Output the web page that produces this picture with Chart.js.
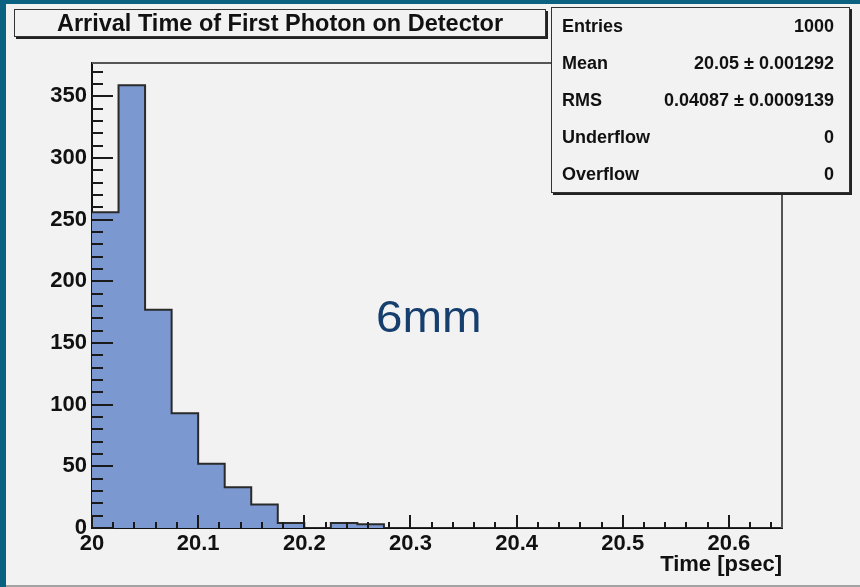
<!DOCTYPE html>
<html>
<head>
<meta charset="utf-8">
<script src="https://cdn.jsdelivr.net/npm/chart.js@4.4.1/dist/chart.umd.min.js"></script>
<style>
html,body{margin:0;padding:0;}
body{width:860px;height:587px;background:#0a6280;position:relative;overflow:hidden;font-family:"Liberation Sans",Arial,sans-serif;}
#pad{position:absolute;left:6px;top:4px;width:854px;height:581px;background:#f2f2f2;border-bottom:2px solid #a3a3a3;}
#c{position:absolute;left:0;top:0;}
#title{position:absolute;left:14px;top:9px;width:530px;height:25px;padding-top:1px;border:1px solid #333;box-shadow:2px 2px 0 #222;background:#f2f2f2;font:bold 23.5px "Liberation Sans",Arial,sans-serif;line-height:25px;text-align:center;color:#111;white-space:nowrap;}
#stats{position:absolute;left:551px;top:7px;width:297px;height:184px;border:1px solid #333;box-shadow:2px 2px 0 #222;background:#f2f2f2;font:bold 18px "Liberation Sans",Arial,sans-serif;color:#111;}
.row{position:absolute;left:10px;right:15px;height:22px;line-height:22px;white-space:nowrap;}
.row .v{position:absolute;right:0;top:0;}
#ann{position:absolute;left:376px;top:295px;font:44px "Liberation Sans",Arial,sans-serif;line-height:44px;color:#173f6e;white-space:nowrap;transform:scaleX(1.08);transform-origin:0 0;}
</style>
</head>
<body>
<div id="pad"></div>
<canvas id="c" width="860" height="587"></canvas>
<div id="title"></div>
<div id="stats"></div>
<div id="ann"></div>
<script>
// ---- data ----
const binLowEdges = [20.000,20.025,20.050,20.075,20.100,20.125,20.150,20.175,20.200,20.225,20.250,20.275,20.300,20.325,20.350,20.375,20.400,20.425,20.450,20.475,20.500,20.525,20.550,20.575,20.600,20.625];
const histUpperEdge = 20.65;
const counts = [256,359,177,93,52,33,19,4,0,4,3,0,0,0,0,0,0,0,0,0,0,0,0,0,0,0];
const xTickValues = [20,20.1,20.2,20.3,20.4,20.5,20.6];
const xTickLabels = ["20","20.1","20.2","20.3","20.4","20.5","20.6"];
const yTickValues = [0,50,100,150,200,250,300,350];
const yAxisMax = 377;
const titleText = "Arrival Time of First Photon on Detector";
const xAxisTitle = "Time [psec]";
const statsLabels = ["Entries","Mean","RMS","Underflow","Overflow"];
const statsValues = ["1000","20.05 \u00b1 0.001292","0.04087 \u00b1 0.0009139","0","0"];
const annotationText = "6mm";

// ---- text overlays ----
document.getElementById('title').textContent = titleText;
document.getElementById('ann').textContent = annotationText;
const rowTops = [7,44,81,118,155];
const statsEl = document.getElementById('stats');
statsLabels.forEach((lab,i)=>{
  const r = document.createElement('div');
  r.className='row'; r.style.top = rowTops[i]+'px';
  const l = document.createElement('span'); l.textContent = lab;
  const v = document.createElement('span'); v.className='v'; v.textContent = statsValues[i];
  r.appendChild(l); r.appendChild(v); statsEl.appendChild(r);
});

// ---- histogram points (step outline) ----
const pts = binLowEdges.map((x,i)=>({x:x, y:counts[i]}));
pts.push({x:histUpperEdge, y:counts[counts.length-1]});

const FONT = '"Liberation Sans", Arial, sans-serif';

const frameTicks = {
  id:'frameTicks',
  afterDraw(chart){
    const {ctx, chartArea:a, scales:{x,y}} = chart;
    ctx.save();
    ctx.strokeStyle='#555'; ctx.lineWidth=2;
    ctx.beginPath();
    ctx.moveTo(a.left, a.top); ctx.lineTo(a.right, a.top); ctx.lineTo(a.right, a.bottom);
    ctx.stroke();
    ctx.strokeStyle='#1a1a1a'; ctx.lineWidth=2;
    ctx.beginPath();
    for (let k=0; k<=37; k++){
      const py = Math.round(y.getPixelForValue(k*10));
      const len = (k%5===0)?21:11;
      ctx.moveTo(a.left, py); ctx.lineTo(a.left+len, py);
    }
    for (let k=0; k<=32; k++){
      const px = Math.round(x.getPixelForValue(20 + k*0.02));
      const len = (k%5===0)?13:6;
      ctx.moveTo(px, a.bottom); ctx.lineTo(px, a.bottom-len);
    }
    ctx.stroke();
    ctx.restore();
  }
};

new Chart(document.getElementById('c'), {
  type:'line',
  data:{ datasets:[{
    data: pts,
    stepped: true,
    fill: 'origin',
    backgroundColor: '#7b98d0',
    borderColor: '#2a2a2a',
    borderWidth: 2,
    pointRadius: 0,
    tension: 0
  }]},
  options:{
    responsive:false,
    animation:false,
    devicePixelRatio:1,
    layout:{padding:{left:0,top:63,right:78,bottom:0}},
    plugins:{legend:{display:false},tooltip:{enabled:false},title:{display:false}},
    scales:{
      x:{
        type:'linear', min:20, max:histUpperEdge, z:1,
        afterBuildTicks:(s)=>{ s.ticks = xTickValues.map(v=>({value:v})); },
        afterFit:(s)=>{ s.height = 59; },
        ticks:{autoSkip:false, maxRotation:0, padding:3, color:'#111',
          font:{family:FONT, size:22, weight:'bold'},
          callback:(v,i)=>xTickLabels[i]},
        grid:{display:false, drawOnChartArea:false, drawTicks:false},
        border:{display:true, color:'#111', width:2},
        title:{display:true, text:xAxisTitle, align:'end', color:'#111',
          font:{family:FONT, size:22, weight:'bold'}, padding:{top:0,bottom:9}}
      },
      y:{
        min:0, max:yAxisMax, z:1,
        afterBuildTicks:(s)=>{ s.ticks = yTickValues.map(v=>({value:v})); },
        afterFit:(s)=>{ s.width = 92; },
        ticks:{autoSkip:false, padding:5, color:'#111',
          font:{family:FONT, size:22, weight:'bold'},
          callback:(v,i)=>String(yTickValues[i])},
        grid:{display:false, drawOnChartArea:false, drawTicks:false},
        border:{display:true, color:'#111', width:2}
      }
    }
  },
  plugins:[frameTicks]
});
</script>
</body>
</html>
